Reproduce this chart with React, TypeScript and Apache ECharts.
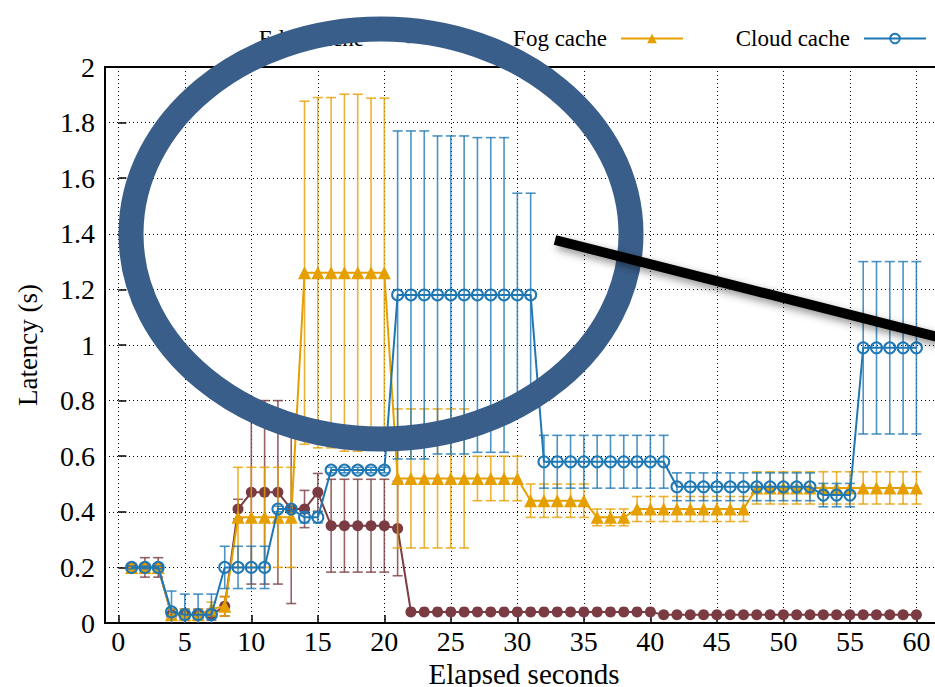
import React, { useEffect, useRef } from "react";
import * as echarts from "echarts";

const seconds = [
  1, 2, 3, 4, 5, 6, 7, 8, 9, 10, 11, 12, 13, 14, 15, 16, 17, 18, 19, 20,
  21, 22, 23, 24, 25, 26, 27, 28, 29, 30, 31, 32, 33, 34, 35, 36, 37, 38, 39, 40,
  41, 42, 43, 44, 45, 46, 47, 48, 49, 50, 51, 52, 53, 54, 55, 56, 57, 58, 59, 60,
];

const edgeValues = [
  0.2, 0.2, 0.2, 0.03, 0.03, 0.03, 0.03, 0.06, 0.41, 0.47, 0.47, 0.47, 0.41, 0.41, 0.47, 0.35, 0.35, 0.35, 0.35, 0.35,
  0.34, 0.04, 0.04, 0.04, 0.04, 0.04, 0.04, 0.04, 0.04, 0.04, 0.04, 0.04, 0.04, 0.04, 0.04, 0.04, 0.04, 0.04, 0.04, 0.04,
  0.03, 0.03, 0.03, 0.03, 0.03, 0.03, 0.03, 0.03, 0.03, 0.03, 0.03, 0.03, 0.03, 0.03, 0.03, 0.03, 0.03, 0.03, 0.03, 0.03,
];
const edgeErrors = [
  0.005, 0.035, 0.035, 0.02, 0.02, 0.02, 0.02, 0.035, 0.035, 0.33, 0.33, 0.33, 0.34, 0.067, 0.068, 0.167, 0.167, 0.167, 0.167, 0.167,
  0.17, 0, 0, 0, 0, 0, 0, 0, 0, 0, 0, 0, 0, 0, 0, 0, 0, 0, 0, 0,
  0, 0, 0, 0, 0, 0, 0, 0, 0, 0, 0, 0, 0, 0, 0, 0, 0, 0, 0, 0,
];

const fogValues = [
  0.2, 0.2, 0.2, 0.03, 0.03, 0.03, 0.05, 0.06, 0.38, 0.38, 0.38, 0.38, 0.38, 1.26, 1.26, 1.26, 1.26, 1.26, 1.26, 1.26,
  0.52, 0.52, 0.52, 0.52, 0.52, 0.52, 0.52, 0.52, 0.52, 0.52, 0.44, 0.44, 0.44, 0.44, 0.44, 0.38, 0.38, 0.38, 0.41, 0.41,
  0.41, 0.41, 0.41, 0.41, 0.41, 0.41, 0.41, 0.486, 0.486, 0.486, 0.486, 0.486, 0.486, 0.486, 0.486, 0.486, 0.486, 0.486, 0.486, 0.486,
];
const fogErrors = [
  0.01, 0.01, 0.01, 0.02, 0.02, 0.02, 0.025, 0.035, 0.18, 0.18, 0.18, 0.18, 0.18, 0.617, 0.63, 0.63, 0.642, 0.642, 0.628, 0.628,
  0.25, 0.25, 0.25, 0.25, 0.25, 0.25, 0.08, 0.08, 0.08, 0.08, 0.06, 0.06, 0.06, 0.06, 0.06, 0.03, 0.03, 0.03, 0.045, 0.045,
  0.045, 0.045, 0.045, 0.045, 0.045, 0.045, 0.045, 0.058, 0.058, 0.058, 0.058, 0.058, 0.058, 0.058, 0.058, 0.058, 0.058, 0.058, 0.058, 0.058,
];

const cloudValues = [
  0.2, 0.2, 0.2, 0.04, 0.03, 0.03, 0.03, 0.2, 0.2, 0.2, 0.2, 0.41, 0.41, 0.38, 0.38, 0.55, 0.55, 0.55, 0.55, 0.55,
  1.18, 1.18, 1.18, 1.18, 1.18, 1.18, 1.18, 1.18, 1.18, 1.18, 1.18, 0.58, 0.58, 0.58, 0.58, 0.58, 0.58, 0.58, 0.58, 0.58,
  0.58, 0.49, 0.49, 0.49, 0.49, 0.49, 0.49, 0.49, 0.49, 0.49, 0.49, 0.49, 0.46, 0.46, 0.46, 0.99, 0.99, 0.99, 0.99, 0.99,
];
const cloudErrors = [
  0.005, 0.005, 0.005, 0.075, 0.074, 0.074, 0.074, 0.076, 0.076, 0.076, 0.076, 0.01, 0.01, 0.02, 0.02, 0.01, 0.01, 0.01, 0.01, 0.01,
  0.59, 0.59, 0.59, 0.572, 0.572, 0.572, 0.566, 0.566, 0.566, 0.366, 0.366, 0.095, 0.095, 0.095, 0.095, 0.095, 0.095, 0.095, 0.095, 0.095,
  0.095, 0.05, 0.05, 0.05, 0.05, 0.05, 0.05, 0.05, 0.05, 0.05, 0.05, 0.05, 0.042, 0.042, 0.042, 0.31, 0.31, 0.31, 0.31, 0.31,
];

const xTickValues = [0, 5, 10, 15, 20, 25, 30, 35, 40, 45, 50, 55, 60];
const seriesNames = ["Edge cache", "Fog cache", "Cloud cache"];

const EDGE = "#7a3c42";
const FOG = "#e69f00";
const CLOUD = "#1f78b4";
const FONT = "Liberation Serif";

function errorBarRender(color: string) {
  return (params: any, api: any) => {
    const x = api.value(0);
    const lo = api.coord([x, api.value(1)]);
    const hi = api.coord([x, api.value(2)]);
    const half = 5;
    const style = { stroke: color, lineWidth: 1.6, opacity: 0.8 };
    return {
      type: "group",
      children: [
        { type: "line", shape: { x1: lo[0], y1: lo[1], x2: hi[0], y2: hi[1] }, style },
        { type: "line", shape: { x1: lo[0] - half, y1: lo[1], x2: lo[0] + half, y2: lo[1] }, style },
        { type: "line", shape: { x1: hi[0] - half, y1: hi[1], x2: hi[0] + half, y2: hi[1] }, style },
      ],
    };
  };
}

function errData(vals: number[], errs: number[]) {
  return seconds.map((s, i) => [s, vals[i] - errs[i], vals[i] + errs[i]]);
}
function lineData(vals: number[]) {
  return seconds.map((s, i) => [s, vals[i]]);
}

export default function App() {
  const ref = useRef<HTMLDivElement>(null);
  useEffect(() => {
    if (!ref.current) return;
    const chart = echarts.init(ref.current, undefined, { renderer: "svg" });
    const legendBase = {
      orient: "horizontal",
      align: "right",
      padding: 0,
      itemWidth: 62,
      itemHeight: 12,
      top: 27,
      textStyle: { fontFamily: FONT, fontSize: 23, color: "#000", padding: [0, 9, 0, 0] },
      selectedMode: false,
    };
    chart.setOption({
      animation: false,
      backgroundColor: "#fff",
      textStyle: { fontFamily: FONT, color: "#000" },
      grid: {
        left: 105,
        top: 67,
        width: 838,
        height: 556,
        show: true,
        borderColor: "#000",
        borderWidth: 2,
        backgroundColor: "transparent",
        outerBoundsMode: "none",
        containLabel: false,
      },
      legend: [
        { ...legendBase, data: [seriesNames[0]], right: 494 },
        { ...legendBase, data: [seriesNames[1]], right: 251 },
        { ...legendBase, data: [seriesNames[2]], right: 8 },
      ],
      xAxis: {
        type: "value",
        min: -1,
        max: 62,
        name: "Elapsed seconds",
        nameLocation: "middle",
        nameGap: 29,
        nameTextStyle: { fontFamily: FONT, fontSize: 29, color: "#000" },
        axisLine: { show: false },
        axisTick: { show: true, inside: true, length: 8, customValues: xTickValues, lineStyle: { color: "#000", width: 1.5 } },
        axisLabel: { customValues: xTickValues, fontFamily: FONT, fontSize: 28, color: "#000", margin: 4 },
        splitLine: { show: true, lineStyle: { color: "#000", type: [1, 3], width: 1 } },
      },
      yAxis: {
        type: "value",
        min: 0,
        max: 2,
        interval: 0.2,
        name: "Latency (s)",
        nameLocation: "middle",
        nameGap: 64,
        nameTextStyle: { fontFamily: FONT, fontSize: 27, color: "#000" },
        axisLine: { show: false },
        axisTick: { show: true, inside: true, length: 8, lineStyle: { color: "#000", width: 1.5 } },
        axisLabel: {
          fontFamily: FONT,
          fontSize: 28,
          color: "#000",
          margin: 10,
          formatter: (v: number) => String(+v.toFixed(1)),
        },
        splitLine: { show: true, lineStyle: { color: "#000", type: [1, 3], width: 1 } },
      },
      series: [
        { type: "custom", renderItem: errorBarRender(EDGE), data: errData(edgeValues, edgeErrors), clip: true, z: 2, silent: true },
        {
          name: seriesNames[0],
          type: "line",
          data: lineData(edgeValues),
          symbol: "circle",
          symbolSize: 11,
          color: EDGE,
          lineStyle: { width: 2, color: EDGE },
          itemStyle: { color: EDGE },
          z: 3,
        },
        { type: "custom", renderItem: errorBarRender(FOG), data: errData(fogValues, fogErrors), clip: true, z: 4, silent: true },
        {
          name: seriesNames[1],
          type: "line",
          data: lineData(fogValues),
          symbol: "triangle",
          symbolSize: 13,
          color: FOG,
          lineStyle: { width: 2, color: FOG },
          itemStyle: { color: FOG },
          z: 5,
        },
        { type: "custom", renderItem: errorBarRender(CLOUD), data: errData(cloudValues, cloudErrors), clip: true, z: 6, silent: true },
        {
          name: seriesNames[2],
          type: "line",
          data: lineData(cloudValues),
          symbol: "circle",
          symbolSize: 11,
          color: CLOUD,
          lineStyle: { width: 2, color: CLOUD },
          itemStyle: { color: "rgba(255,255,255,0)", borderColor: CLOUD, borderWidth: 2 },
          z: 7,
        },
      ],
      graphic: [
        {
          type: "ellipse",
          z: 100,
          shape: { cx: 381, cy: 234, rx: 250, ry: 205 },
          style: { fill: "none", stroke: "#3a5e8a", lineWidth: 25 },
        },
        {
          type: "line",
          z: 101,
          shape: { x1: 555, y1: 240, x2: 965, y2: 344 },
          style: {
            stroke: "#000",
            lineWidth: 10,
            shadowBlur: 8,
            shadowColor: "rgba(0,0,0,0.45)",
            shadowOffsetX: 3,
            shadowOffsetY: 4,
          },
        },
      ],
    });
    return () => chart.dispose();
  }, []);
  return (
    <div style={{ position: "absolute", left: 0, top: 0, width: 935, height: 687 }}>
      <div ref={ref} style={{ width: 935, height: 687 }} />
    </div>
  );
}
